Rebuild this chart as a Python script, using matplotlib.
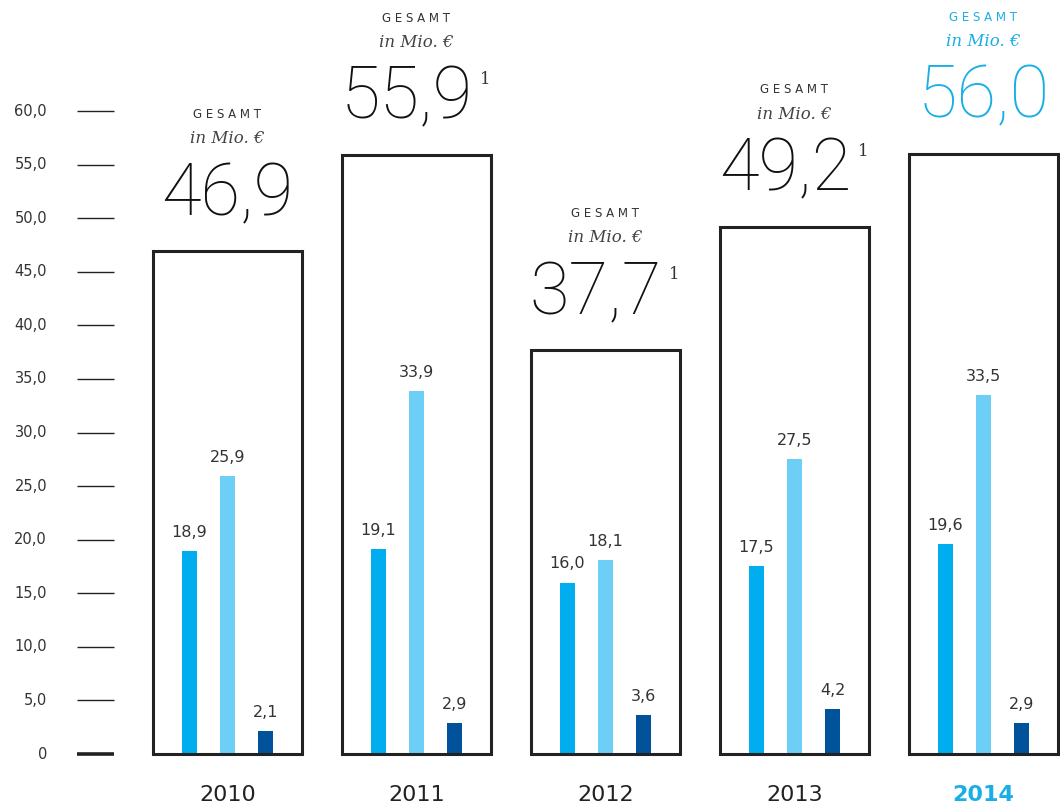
import matplotlib
matplotlib.use("Agg")
import matplotlib.pyplot as plt
from matplotlib.patches import Rectangle

years = ["2010", "2011", "2012", "2013", "2014"]
totals = [46.9, 55.9, 37.7, 49.2, 56.0]
series_a = [18.9, 19.1, 16.0, 17.5, 19.6]
series_b = [25.9, 33.9, 18.1, 27.5, 33.5]
series_c = [2.1, 2.9, 3.6, 4.2, 2.9]
footnote = [False, True, True, True, False]
yticks = [0, 5, 10, 15, 20, 25, 30, 35, 40, 45, 50, 55, 60]

col_a = "#00aeef"
col_b = "#6dcff6"
col_c = "#00529b"
col_hl = "#1aaee6"
dark = "#222222"

def fmt(v):
    return f"{v:.1f}".replace(".", ",")

fig = plt.figure(figsize=(10.6, 8.08), dpi=100)
ax = fig.add_axes([0, 0, 1, 1])
ax.set_xlim(-1.2037, 4.4048)
ax.set_ylim(-5.039, 70.36)
ax.axis("off")

big_font = "Roboto"

# y ticks
for t in yticks:
    ax.plot([-0.796, -0.6005], [t, t], color=dark, lw=2.6 if t == 0 else 1.0,
            solid_capstyle="butt")
    ax.text(-0.955, t, "0" if t == 0 else fmt(t), ha="right", va="center",
            fontsize=10.5, color="#333333")

box_w = 149 / 189
bar_w = 15 / 189
off = 38 / 189
big_texts = []
for i, y in enumerate(years):
    hl = (i == len(years) - 1)
    tcol = col_hl if hl else dark
    ax.add_patch(Rectangle((i - box_w / 2, 0), box_w, totals[i], fill=False,
                           edgecolor=dark, lw=2.2, zorder=3))
    for dx, vals, c in [(-off, series_a, col_a), (0, series_b, col_b), (off, series_c, col_c)]:
        ax.bar(i + dx, vals[i], width=bar_w, color=c, zorder=2)
        ax.annotate(fmt(vals[i]), (i + dx, vals[i]), xytext=(0, 8),
                    textcoords="offset points", ha="center", va="bottom",
                    fontsize=11.5, color="#333333")
    ax.annotate("G E S A M T", (i, totals[i]), xytext=(0, 98.5), textcoords="offset points",
                ha="center", va="center", fontsize=8.5, color=("#1aaee6" if hl else "#333333"))
    ax.annotate("in Mio. €", (i, totals[i]), xytext=(0, 81), textcoords="offset points",
                ha="center", va="center", fontsize=12, style="italic",
                family="DejaVu Serif", color=("#1aaee6" if hl else "#444444"))
    shift = -7 if footnote[i] else 0
    bt = ax.annotate(fmt(totals[i]), (i, totals[i]), xytext=(shift, 26), textcoords="offset points",
                     ha="center", va="baseline", fontsize=52, family=big_font, weight="light",
                     color=(col_hl if hl else "#111111"))
    big_texts.append(bt)
    ax.annotate(y, (i, 0), xytext=(0, -29.5), textcoords="offset points",
                ha="center", va="center", fontsize=16,
                weight=("bold" if hl else "normal"), color=tcol)

fig.canvas.draw()
r = fig.canvas.get_renderer()
for i, bt in enumerate(big_texts):
    if footnote[i]:
        ext = bt.get_window_extent(r)
        xd, _ = ax.transData.inverted().transform((ext.x1, ext.y1))
        ax.annotate("1", (xd, totals[i]), xytext=(5, 54), textcoords="offset points",
                    ha="left", va="center", fontsize=12, family="DejaVu Serif",
                    color="#333333")

fig.savefig("out.png", dpi=100)
